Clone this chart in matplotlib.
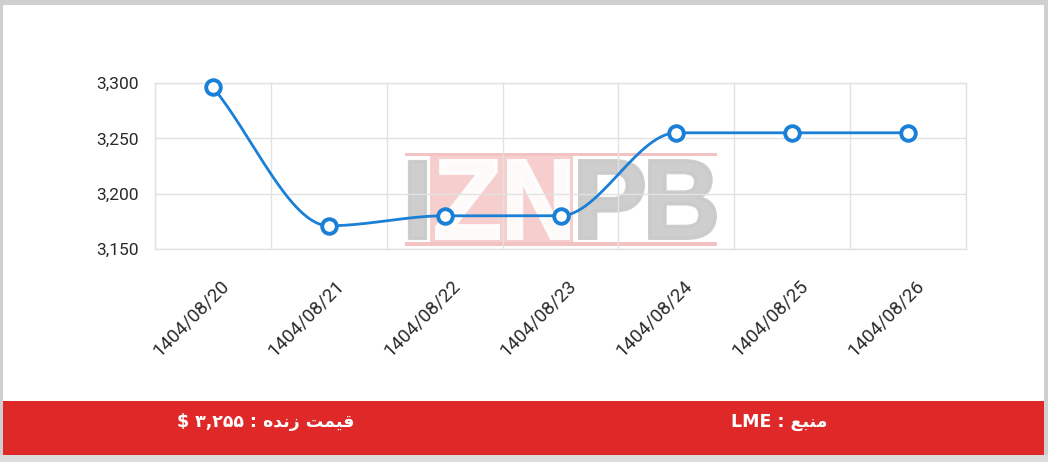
import numpy as np
import matplotlib
matplotlib.use("Agg")
import matplotlib.pyplot as plt
import matplotlib.transforms as mtransforms
from matplotlib.patches import Rectangle, PathPatch
from matplotlib.textpath import TextPath
from matplotlib.font_manager import FontProperties

# ---------------- data ----------------
dates = ["1404/08/20", "1404/08/21", "1404/08/22", "1404/08/23",
         "1404/08/24", "1404/08/25", "1404/08/26"]
prices = [3296, 3171, 3180, 3180, 3255, 3255, 3255]
y_ticks = [3150, 3200, 3250, 3300]
y_tick_labels = ["3,150", "3,200", "3,250", "3,300"]
# Persian footer texts (visual order, presentation forms)
live_price_text = "$ \u06F3,\u06F2\u06F5\u06F5 : \uFEE9\uFEAA\uFEE7\uFEAF \uFE96\uFEE4\uFEF4\uFED7"
source_text = "LME : \uFECA\uFE92\uFEE8\uFEE3"
watermark_letters = ["I", "Z", "N", "P", "B"]

W, H = 1048, 462
fig = plt.figure(figsize=(W / 100, H / 100), dpi=100)
fig.patch.set_facecolor("#cfcfcf")


def px_rect(x0, y0, x1, y1, color, z=0, alpha=1.0):
    fig.patches.append(Rectangle((x0 / W, 1 - y1 / H), (x1 - x0) / W, (y1 - y0) / H,
                                 transform=fig.transFigure, facecolor=color,
                                 edgecolor="none", zorder=z, alpha=alpha))


# frame / panels
px_rect(0, 455, W, H, "#dcdcdc", z=0)
px_rect(3, 5, 1044, 401, "white", z=0.5)
px_rect(3, 401, 1044, 455, "#df2929", z=0.5)

# footer texts
fig.text(266 / W, 1 - 422 / H, live_price_text, color="white", fontsize=12.5,
         fontweight="bold", family=["DejaVu Sans"], ha="center", va="center")
fig.text(779 / W, 1 - 422 / H, source_text, color="white", fontsize=12.5,
         fontweight="bold", family=["DejaVu Sans"], ha="center", va="center")

# watermark
wm_z = 1
px_rect(405, 153, 717, 156, "#f2b9b9", z=wm_z, alpha=0.85)
px_rect(405, 242, 717, 246, "#f2b9b9", z=wm_z, alpha=0.85)
px_rect(430, 156, 573, 242, "#f5c6c6", z=wm_z, alpha=0.85)
fp = FontProperties(family="Liberation Sans", weight="bold")
boxes = [(407, 427, "#c9c9c9"), (435, 500, "white"), (507, 570, "white"),
         (578, 645, "#c9c9c9"), (648, 717, "#c9c9c9")]
grow = 1.6  # px added by the outline on each side
for ch, (bx0, bx1, col) in zip(watermark_letters, boxes):
    tp = TextPath((0, 0), ch, size=100, prop=fp)
    ext = tp.get_extents()
    by0, by1 = H - 240 + grow, H - 159 - grow
    cx0, cx1 = bx0 + grow, bx1 - grow
    tr = (mtransforms.Affine2D()
          .translate(-ext.x0, -ext.y0)
          .scale((cx1 - cx0) / ext.width, (by1 - by0) / ext.height)
          .translate(cx0, by0))
    path = tr.transform_path(tp)
    fig.patches.append(PathPatch(path, transform=mtransforms.IdentityTransform(),
                                 facecolor=col, edgecolor=col, lw=grow * 2 * 0.72,
                                 joinstyle="miter", zorder=wm_z + 0.1, alpha=0.9))

# ---------------- axes ----------------
ax = fig.add_axes([155 / W, (H - 249) / H, 811 / W, 166 / H])
ax.set_facecolor("none")
ax.set_zorder(2)

x = np.arange(len(prices), dtype=float)
y = np.array(prices, dtype=float)

# monotone cubic (Chart.js style) curve through the points
n = len(y)
delta = np.diff(y) / np.diff(x)
m = np.zeros(n)
m[0] = delta[0]
m[-1] = delta[-1]
for i in range(1, n - 1):
    if delta[i - 1] == 0 or delta[i] == 0 or np.sign(delta[i - 1]) != np.sign(delta[i]):
        m[i] = 0
    else:
        m[i] = (delta[i - 1] + delta[i]) / 2
for i in range(n - 1):
    if delta[i] == 0:
        m[i] = m[i + 1] = 0
        continue
    a = m[i] / delta[i]
    b = m[i + 1] / delta[i]
    s = a * a + b * b
    if s > 9:
        t = 3 / np.sqrt(s)
        m[i] = t * a * delta[i]
        m[i + 1] = t * b * delta[i]
xs, ys = [], []
for i in range(n - 1):
    h = x[i + 1] - x[i]
    t = np.linspace(0, 1, 60)
    h00 = 2 * t**3 - 3 * t**2 + 1
    h10 = t**3 - 2 * t**2 + t
    h01 = -2 * t**3 + 3 * t**2
    h11 = t**3 - t**2
    xs.append(x[i] + t * h)
    ys.append(h00 * y[i] + h10 * h * m[i] + h01 * y[i + 1] + h11 * h * m[i + 1])
xs = np.concatenate(xs)
ys = np.concatenate(ys)

blue = "#1a7fd6"
ax.plot(xs, ys, color=blue, lw=2, zorder=3, solid_capstyle="round", clip_on=False)
ax.plot(x, y, "o", ms=10.5, mfc="white", mec=blue, mew=2.8, zorder=4, clip_on=False)

ax.set_xlim(-0.5, n - 0.5)
ax.set_ylim(3150, 3300)
ax.set_yticks(y_ticks)
ax.set_yticklabels(y_tick_labels, family=["Roboto", "DejaVu Sans"], fontsize=12.5, color="#2a2a2a")
ax.tick_params(axis="y", length=0, pad=12)

ax.set_xticks(np.arange(-0.5, n, 1.0))
ax.set_xticklabels([])
ax.tick_params(axis="x", length=0)
ax.grid(True, color="#e2e2e2", lw=1)
for sp in ax.spines.values():
    sp.set_color("#e2e2e2")
    sp.set_linewidth(1)
ax.set_axisbelow(True)

offset = mtransforms.ScaledTranslation(13 / 100, -34 / 100, fig.dpi_scale_trans)
trans = mtransforms.blended_transform_factory(ax.transData, ax.transAxes) + offset
for i, lab in enumerate(dates):
    ax.text(i, 0, lab, transform=trans, rotation=45, rotation_mode="anchor",
            ha="right", va="center", fontsize=13.5, color="#2a2a2a",
            family=["Roboto", "DejaVu Sans"])

fig.savefig("out.png", dpi=100, facecolor=fig.get_facecolor())
